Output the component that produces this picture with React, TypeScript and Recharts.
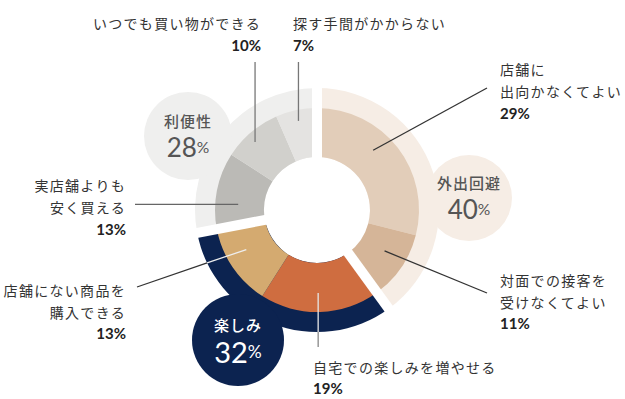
import { PieChart, Pie, Cell } from 'recharts'

// groups (outer ring)
const groupNames = ['外出回避', '楽しみ', '利便性']
const groupValues = [40, 32, 28]
const groupColors = ['#f6ede5', '#0c2350', '#efefee']
const groupTextColors = ['#555555', '#ffffff', '#555555']

// reasons (inner ring)
const itemLabels = [
  ['店舗に', '出向かなくてよい'],
  ['対面での接客を', '受けなくてよい'],
  ['自宅での楽しみを増やせる'],
  ['店舗にない商品を', '購入できる'],
  ['実店舗よりも', '安く買える'],
  ['いつでも買い物ができる'],
  ['探す手間がかからない'],
]
const itemValues = [29, 11, 19, 13, 13, 10, 7]
const itemGroup = [0, 0, 1, 1, 2, 2, 2]
const itemColors = ['#e2cdb9', '#d5b598', '#cf6d40', '#d4aa70', '#bbbab6', '#d1d0cc', '#e4e3e1']

const CX = 317
const CY = 210
const HOLE = 53
const INNER_R = 102
const RING_R = 122

const JP = "'Noto Sans CJK JP', sans-serif"
const NUM = "Lato, 'Noto Sans CJK JP', sans-serif"

// callout layout: anchor radius / bearing tweak, line end, text position
type Callout = {
  r: number
  db: number
  ex?: number
  ey?: number
  tx: number
  ty: number[]
  anchor: 'start' | 'end'
  line: string
  inner?: string
}

const callouts: Callout[] = [
  { r: 82, db: -9, ex: 487, ey: 88, tx: 500, ty: [69, 91, 113], anchor: 'start', line: '#333' },
  { r: 79, db: -3, ex: 487, ey: 293, tx: 500, ty: [280, 302, 323], anchor: 'start', line: '#333' },
  { r: 83, db: 1, ey: 347, tx: 313, ty: [367, 388], anchor: 'start', line: '#888', inner: '#e6e6e6' },
  { r: 81, db: 5, ex: 137, ey: 287, tx: 126, ty: [290, 312, 333], anchor: 'end', line: '#333', inner: '#eeeeee' },
  { r: 79, db: -7, ex: 135, tx: 126, ty: [185, 207, 229], anchor: 'end', line: '#666' },
  { r: 92, db: -2, ey: 62, tx: 261, ty: [23, 45], anchor: 'end', line: '#777' },
  { r: 91, db: 0, ey: 62, tx: 293, ty: [23, 45], anchor: 'start', line: '#777' },
]

const bubbles = [
  { x: 469, y: 198, r: 43, numSize: 26 },
  { x: 238, y: 340, r: 46, numSize: 29 },
  { x: 188, y: 136, r: 44, numSize: 26 },
]

const groupData = groupNames.map((name, i) => ({ name, value: groupValues[i] }))
const total = groupValues.reduce((a, b) => a + b, 0)

let acc = 0
const groupAngles = groupValues.map((v) => {
  const start = 90 - (360 * acc) / total
  acc += v
  return { start, end: 90 - (360 * acc) / total }
})

const itemData = itemLabels.map((lines, i) => ({
  id: i,
  name: lines.join(''),
  value: itemValues[i],
  group: itemGroup[i],
}))

function polar(cx: number, cy: number, r: number, bearing: number) {
  const rad = (bearing * Math.PI) / 180
  return { x: cx + r * Math.sin(rad), y: cy - r * Math.cos(rad) }
}

function renderBubble(p: any) {
  const i = p.index
  const b = bubbles[i]
  const color = groupTextColors[i]
  return (
    <g key={`bubble-${i}`}>
      <circle cx={b.x} cy={b.y} r={b.r} fill={groupColors[i]} />
      <text
        x={b.x}
        y={b.y - 16}
        textAnchor="middle"
        dominantBaseline="central"
        fontFamily={JP}
        fontSize={15}
        fontWeight={500}
        letterSpacing={1}
        fill={color}
      >
        {groupNames[i]}
      </text>
      <text
        x={b.x}
        y={b.y + 11}
        textAnchor="middle"
        dominantBaseline="central"
        fontFamily={NUM}
        fontSize={b.numSize}
        fill={color}
      >
        {groupValues[i]}
        <tspan fontSize={b.numSize * 0.6}>%</tspan>
      </text>
    </g>
  )
}

function renderCallout(p: any) {
  const id = p.payload?.id ?? p.id
  const c = callouts[id]
  const a = polar(p.cx, p.cy, c.r, 90 - p.midAngle + c.db)
  const ex = c.ex ?? a.x
  const ey = c.ey ?? a.y
  let split = a
  if (c.inner) {
    // where the callout leaves the outer ring
    const dx = ex - a.x
    const dy = ey - a.y
    const fx = a.x - p.cx
    const fy = a.y - p.cy
    const A = dx * dx + dy * dy
    const B = 2 * (fx * dx + fy * dy)
    const C = fx * fx + fy * fy - RING_R * RING_R
    const t = (-B + Math.sqrt(B * B - 4 * A * C)) / (2 * A)
    split = { x: a.x + t * dx, y: a.y + t * dy }
  }
  const lines = itemLabels[id]
  return (
    <g key={`callout-${id}`}>
      {c.inner && <line x1={a.x} y1={a.y} x2={split.x} y2={split.y} stroke={c.inner} strokeWidth={1.3} />}
      <line x1={split.x} y1={split.y} x2={ex} y2={ey} stroke={c.line} strokeWidth={1.3} />
      {lines.map((s, k) => (
        <text
          key={k}
          x={c.tx}
          y={c.ty[k]}
          textAnchor={c.anchor}
          dominantBaseline="central"
          fontFamily={JP}
          fontSize={14}
          letterSpacing={1.3}
          fill="#333"
        >
          {s}
        </text>
      ))}
      <text
        x={c.tx}
        y={c.ty[lines.length]}
        textAnchor={c.anchor}
        dominantBaseline="central"
        fontFamily={NUM}
        fontSize={15}
        fontWeight={700}
        fill="#222"
      >
        {itemValues[id]}%
      </text>
    </g>
  )
}

function renderGap(p: any) {
  const b = 90 - p.startAngle
  const s = polar(p.cx, p.cy, HOLE - 3, b)
  const e = polar(p.cx, p.cy, RING_R + 1, b)
  return <line key={`gap-${p.index}`} x1={s.x} y1={s.y} x2={e.x} y2={e.y} stroke="#fff" strokeWidth={10} />
}

export default function App() {
  return (
    <div style={{ position: 'absolute', left: 0, top: 0, width: 625, height: 399, background: '#fff' }}>
      <PieChart width={625} height={399} margin={{ top: 0, right: 0, bottom: 0, left: 0 }}>
        <Pie
          data={groupData}
          dataKey="value"
          cx={CX}
          cy={CY}
          innerRadius={HOLE}
          outerRadius={RING_R}
          startAngle={90}
          endAngle={-270}
          stroke="none"
          label={renderBubble}
          labelLine={false}
          isAnimationActive={false}
        >
          {groupData.map((g, i) => (
            <Cell key={g.name} fill={groupColors[i]} />
          ))}
        </Pie>
        {groupAngles.map((ang, gi) => {
          const data = itemData.filter((d) => d.group === gi)
          return (
            <Pie
              key={`items-${gi}`}
              data={data}
              dataKey="value"
              cx={CX}
              cy={CY}
              innerRadius={HOLE}
              outerRadius={INNER_R}
              startAngle={ang.start}
              endAngle={ang.end}
              stroke="none"
              label={renderCallout}
              labelLine={false}
              isAnimationActive={false}
            >
              {data.map((d) => (
                <Cell key={d.name} fill={itemColors[d.id]} />
              ))}
            </Pie>
          )
        })}
        <Pie
          data={groupData}
          dataKey="value"
          cx={CX}
          cy={CY}
          innerRadius={HOLE}
          outerRadius={RING_R}
          startAngle={90}
          endAngle={-270}
          fill="none"
          stroke="none"
          label={renderGap}
          labelLine={false}
          isAnimationActive={false}
        />
      </PieChart>
    </div>
  )
}
